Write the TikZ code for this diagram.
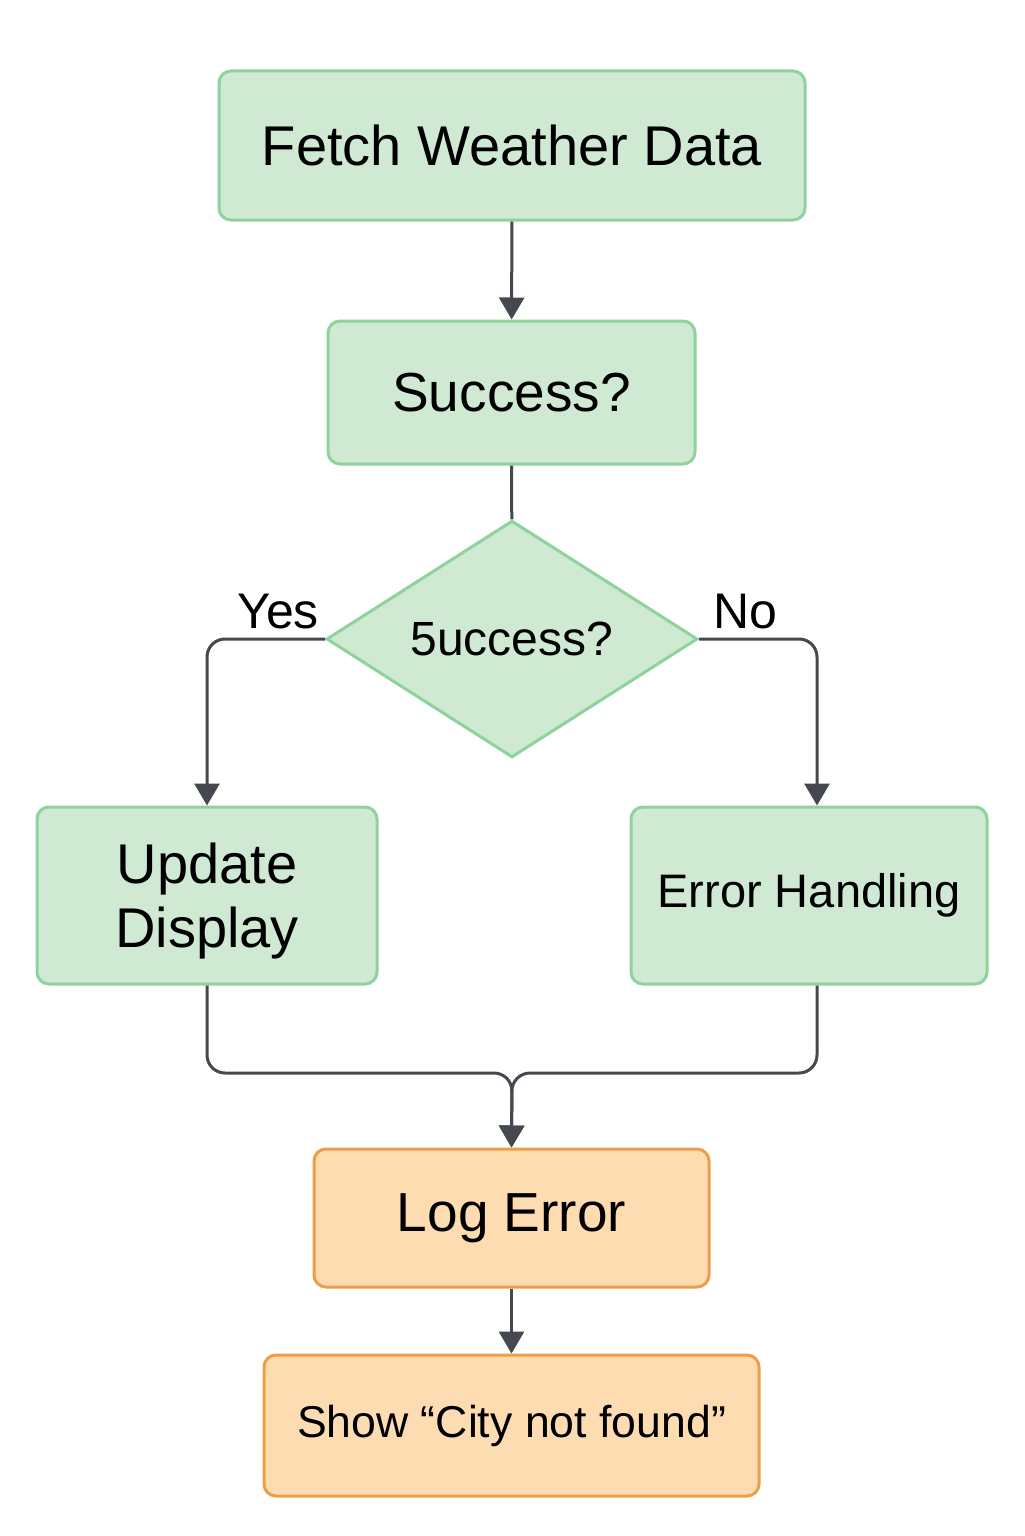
\documentclass[tikz,border=0pt]{standalone}
\usepackage{fontspec}
\setmainfont{Liberation Sans}
\usetikzlibrary{shapes.geometric,arrows.meta}

\definecolor{boxgreen}{HTML}{CFE9D3}
\definecolor{linegreen}{HTML}{8ED29C}
\definecolor{boxorange}{HTML}{FDDCB2}
\definecolor{lineorange}{HTML}{EE9E48}
\definecolor{arrowgray}{HTML}{45494F}

\tikzset{
  greenbox/.style={draw=linegreen, fill=boxgreen, line width=1.5pt, rounded corners=6pt, inner sep=0pt, align=center},
  orangebox/.style={draw=lineorange, fill=boxorange, line width=1.5pt, rounded corners=6pt, inner sep=0pt, align=center},
  flow/.style={draw=arrowgray, line width=1.5pt, rounded corners=9pt, -{Triangle[length=11pt,width=12.5pt]}},
  link/.style={draw=arrowgray, line width=1.5pt},
}

\begin{document}
\begin{tikzpicture}[x=0.5pt,y=-0.5pt]
  \useasboundingbox[fill=white] (0,0) rectangle (1024,1536);

  %% top boxes
  \node[greenbox, minimum width=293pt, minimum height=74.5pt, font=\fontsize{28}{34}\selectfont] (fetch) at (512,145.5) {Fetch Weather Data};
  \node[greenbox, minimum width=183.5pt, minimum height=71.5pt, font=\fontsize{27.5}{33}\selectfont] (check) at (511.5,392.5) {Success?};

  %% decision
  \node[diamond, draw=linegreen, fill=boxgreen, line width=1.5pt, inner sep=0pt, minimum width=185.5pt, minimum height=113pt, font=\fontsize{24}{28}\selectfont] (decide) at (512,639) {5uccess?};
  \node[font=\fontsize{25}{30}\selectfont] (yes) at (278,612) {Yes};
  \node[font=\fontsize{25}{30}\selectfont] (no) at (745,612) {No};

  %% branches
  \node[greenbox, minimum width=170pt, minimum height=88.5pt, text depth=0pt, font=\fontsize{28}{32}\selectfont] (update) at (207,895.5) {Update\\Display};
  \node[greenbox, minimum width=178pt, minimum height=88.5pt, font=\fontsize{23.5}{28}\selectfont] (err) at (809,895.5) {Error Handling};

  %% bottom boxes
  \node[orangebox, minimum width=197.5pt, minimum height=69pt, font=\fontsize{27.5}{33}\selectfont] (log) at (511.5,1218) {Log Error};
  \node[orangebox, minimum width=247.5pt, minimum height=70.5pt, font=\fontsize{22.3}{27}\selectfont] (show) at (511.5,1425.5) {Show “City not found”};

  \coordinate (merge) at (512,1073);

  %% connectors
  \draw[flow] (fetch) -- (check);
  \draw[link] (check) -- (decide);
  \draw[flow] (decide.west) -| (update.north);
  \draw[flow] (decide.east) -| ([xshift=4pt]err.north);
  \draw[flow] (update.south) |- (merge) -- (log.north);
  \draw[flow] ([xshift=4pt]err.south) |- (merge) -- (log.north);
  \draw[flow] (log) -- (show);

\end{tikzpicture}
\end{document}
